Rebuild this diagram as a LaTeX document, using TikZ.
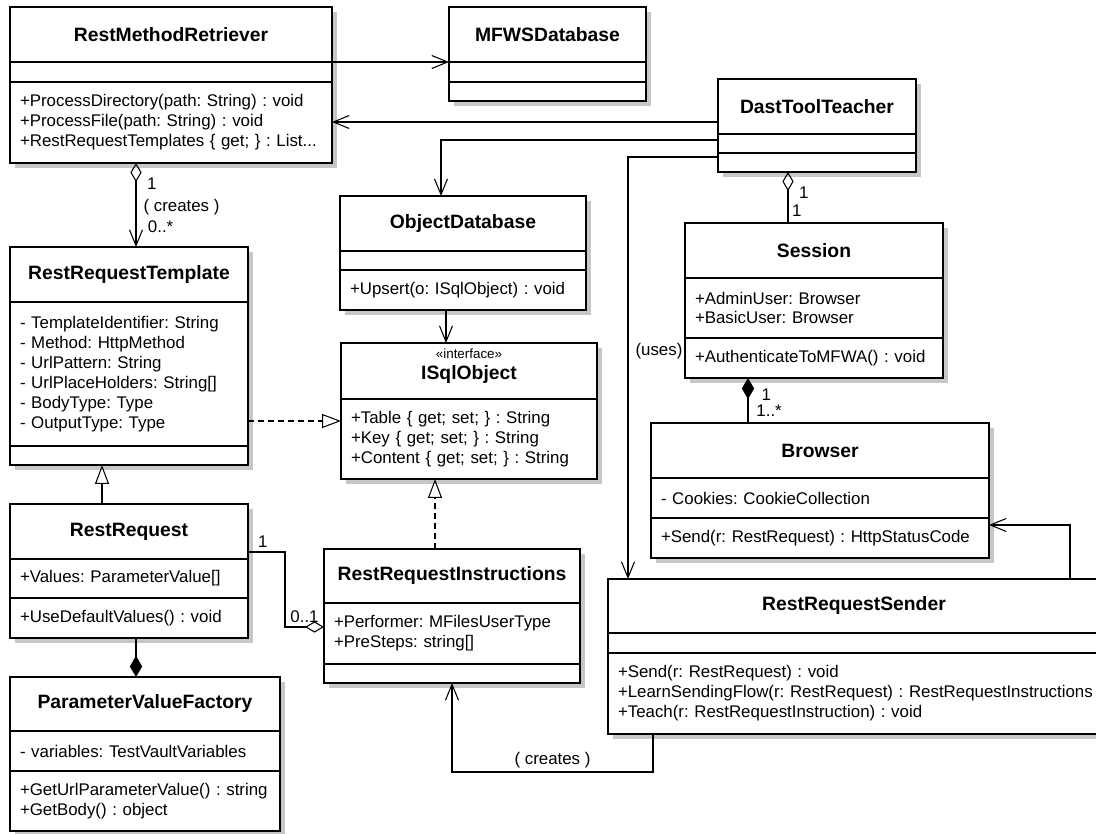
\documentclass[tikz,border=0pt]{standalone}
\usepackage{fontspec}
\setmainfont{Liberation Sans}
\usetikzlibrary{arrows.meta,backgrounds,calc,positioning}
\frenchspacing
\hyphenpenalty=10000
\exhyphenpenalty=10000
\def\px{0.02cm}
\newcommand\classfont{\fontsize{11}{13}\selectfont\bfseries}
\newcommand\memberfont{\fontsize{9.6}{11.34}\selectfont}
\newcommand\stereofont{\fontsize{7.6}{9}\selectfont\mdseries}
\tikzset{
    uml diagram/.style   = {x=\px, y=-\px, line width=0.6pt,
                            >={Straight Barb[length=9pt, width=7.4pt]}},
    compartment/.style   = {draw, line width=0.8pt, fill=white,
                            inner sep=0pt, outer sep=0pt},
    classname/.style 2 args = {compartment, anchor=north west, font=\classfont,
                            align=center, minimum width=#1*\px,
                            minimum height=#2*\px},
    members/.style 2 args   = {compartment, font=\memberfont, align=left,
                            inner xsep=0.2cm, text width=(#1-20)*\px,
                            minimum height=#2*\px},
    class shadow/.style  = {fill=black!22},
    mult/.style          = {font=\memberfont, inner sep=2pt},
    navigable/.style     = {->},
    aggregation/.style   = {arrows={Diamond[open, length=10.8pt, width=6.4pt]->}},
    owner/.style         = {arrows={Diamond[open, length=10.8pt, width=6.4pt]-}},
    shared/.style        = {arrows={-Diamond[open, length=10.8pt, width=6.4pt]}},
    composition/.style   = {arrows={-Diamond[length=12pt, width=7pt]}},
    whole/.style         = {arrows={Diamond[length=12pt, width=7pt]-}},
    generalization/.style = {arrows={-Triangle[open, length=10.8pt, width=8pt]}},
    realization/.style   = {generalization, dash pattern=on 3.4pt off 2.3pt}
}

\begin{document}
\begin{tikzpicture}[uml diagram]
\useasboundingbox (0,0) rectangle (1096,834);
\clip (0,0) rectangle (1096,834);

% Classes, top row
\node[classname={322}{55}] (retriever) at (10,7) {RestMethodRetriever};
\node[members={322}{20}, below=0pt of retriever] (retrieverattrs) {};
\node[members={322}{81}, below=0pt of retrieverattrs] (retrieverops)
  {+ProcessDirectory(path: String) : void\\+ProcessFile(path: String) : void\\+RestRequestTemplates \{ get; \} : List...};

\node[classname={197}{55}] (mfws) at (449,7) {MFWSDatabase};
\node[members={197}{20}, below=0pt of mfws] (mfwsattrs) {};
\node[members={197}{19}, below=0pt of mfwsattrs] (mfwsops) {};

\node[classname={198}{55}] (teacher) at (718,79) {DastToolTeacher};
\node[members={198}{19}, below=0pt of teacher] (teacherattrs) {};
\node[members={198}{19}, below=0pt of teacherattrs] (teacherops) {};

% Persistence
\node[classname={246}{55}] (objdb) at (340,196) {ObjectDatabase};
\node[members={246}{19}, below=0pt of objdb] (objdbattrs) {};
\node[members={246}{40}, below=0pt of objdbattrs] (objdbops)
  {+Upsert(o: ISqlObject) : void};

\node[classname={256}{56}] (isql) at (341,343)
  {{\stereofont «interface»}\\[-1pt]ISqlObject\rule[-8pt]{0pt}{0pt}};
\node[members={256}{80}, below=0pt of isql] (isqlattrs)
  {+Table \{ get; set; \} : String\\+Key \{ get; set; \} : String\\+Content \{ get; set; \} : String};

% Requests
\node[classname={238}{55}] (template) at (10,247) {RestRequestTemplate};
\node[members={238}{144}, below=0pt of template] (templateattrs)
  {- TemplateIdentifier: String\\- Method: HttpMethod\\- UrlPattern: String\\- UrlPlaceHolders: String[]\\- BodyType: Type\\- OutputType: Type};
\node[members={238}{19}, below=0pt of templateattrs] (templateops) {};

\node[classname={238}{55}] (request) at (10,504) {RestRequest};
\node[members={238}{39}, below=0pt of request] (requestattrs)
  {+Values: ParameterValue[]};
\node[members={238}{40}, below=0pt of requestattrs] (requestops)
  {+UseDefaultValues() : void};

\node[classname={270}{54}] (factory) at (10,677) {ParameterValueFactory};
\node[members={270}{40}, below=0pt of factory] (factoryattrs)
  {- variables: TestVaultVariables};
\node[members={270}{60}, below=0pt of factoryattrs] (factoryops)
  {+GetUrlParameterValue() : string\\+GetBody() : object};

\node[classname={256}{54}] (instructions) at (324,549) {RestRequestInstructions};
\node[members={256}{61}, below=0pt of instructions] (instructionsattrs)
  {+Performer: MFilesUserType\\+PreSteps: string[]};
\node[members={256}{19}, below=0pt of instructionsattrs] (instructionsops) {};

% Session side
\node[classname={258}{55}] (session) at (685,223) {Session};
\node[members={258}{60}, below=0pt of session] (sessionattrs)
  {+AdminUser: Browser\\+BasicUser: Browser};
\node[members={258}{40}, below=0pt of sessionattrs] (sessionops)
  {+AuthenticateToMFWA() : void};

\node[classname={338}{55}] (browser) at (651,423) {Browser};
\node[members={338}{40}, below=0pt of browser] (browserattrs)
  {- Cookies: CookieCollection};
\node[members={338}{40}, below=0pt of browserattrs] (browserops)
  {+Send(r: RestRequest) : HttpStatusCode};

\node[classname={492}{54}] (sender) at (608,579) {RestRequestSender};
\node[members={492}{20}, below=0pt of sender] (senderattrs) {};
\node[members={492}{81}, below=0pt of senderattrs] (senderops)
  {+Send(r: RestRequest) : void\\\mbox{+LearnSendingFlow(r: RestRequest) : RestRequestInstructions}\\+Teach(r: RestRequestInstruction) : void};

% Drop shadows behind every class
\begin{scope}[on background layer]
  \foreach \cls/\last in {retriever/retrieverops, mfws/mfwsops,
      teacher/teacherops, objdb/objdbops, isql/isqlattrs,
      template/templateops, request/requestops, factory/factoryops,
      instructions/instructionsops, session/sessionops,
      browser/browserops, sender/senderops}
    \fill[class shadow] ($(\cls.north west)+(5,5)$)
      rectangle ($(\last.south east)+(5,5)$);
\end{scope}

% Connector end points
\coordinate (teacherA) at ($(teacher.north west)+(0,43)$);
\coordinate (teacherB) at ($(teacher.north west)+(0,61)$);
\coordinate (teacherC) at ($(teacher.north west)+(0,78)$);
\coordinate (objdbtop) at ($(objdb.north west)+(101,0)$);
\coordinate (sendertop) at ($(sender.north west)+(20,0)$);
\coordinate (retrieverbot) at ($(retrieverops.south west)+(126,0)$);
\coordinate (templateR) at ($(templateattrs.north east)+(0,119)$);
\coordinate (requesttop) at ($(request.north west)+(92,0)$);
\coordinate (requestbot) at ($(requestops.south west)+(126,0)$);
\coordinate (requestR) at ($(request.north east)+(0,48)$);
\coordinate (instructionsL) at ($(instructionsattrs.north west)+(0,24)$);
\coordinate (instructionstop) at ($(instructions.north west)+(111,0)$);
\coordinate (instructionsbot) at ($(instructionsops.south west)+(128,0)$);
\coordinate (objdbbot) at ($(objdbops.south west)+(106,0)$);
\coordinate (senderbot) at ($(senderops.south west)+(45,0)$);
\coordinate (teacherbot) at ($(teacherops.south west)+(70,0)$);
\coordinate (sessionbot) at ($(sessionops.south west)+(63,0)$);
\coordinate (senderright) at ($(sender.north west)+(462,0)$);
\coordinate (browserR) at ($(browserops.north east)+(0,7)$);

% Associations
\draw[navigable] (retriever.south east) -- (mfws.south west);
\draw[navigable] (teacherA) -- (teacherA -| retrieverops.east);
\draw[navigable] (teacherB) -| (objdbtop);
\draw[navigable] (teacherC)
  -| node[mult, pos=0.73, right=2pt] {(uses)} (sendertop);
\draw[aggregation] (retrieverbot)
  -- node[mult, pos=0.25, right=4pt] {1}
     node[mult, pos=0.52, right=2pt] {( creates )}
     node[mult, pos=0.76, right=4.5pt] {0..*}
  (retrieverbot |- template.north);
\draw[realization] (templateR) -- (templateR -| isqlattrs.west);
\draw[generalization] (requesttop) -- (requesttop |- templateops.south);
\draw[composition] (requestbot) -- (requestbot |- factory.north);
\draw[shared] (requestR) -- node[mult, above, pos=0.4] {1} ++(37,0)
  |- node[mult, above, pos=0.75] {0..1} (instructionsL);
\draw[realization] (instructionstop) -- (instructionstop |- isqlattrs.south);
\draw[navigable] (objdbbot) -- (objdbbot |- isql.north);
\draw[navigable] (senderbot) -- ++(0,38)
  -| node[mult, above, pos=0.25] {( creates )} (instructionsbot);
\draw[owner] (teacherbot)
  -- node[mult, pos=0.41, right=4pt] {1}
     node[mult, pos=0.76, right=0pt] {1}
  (teacherbot |- session.north);
\draw[whole] (sessionbot)
  -- node[mult, pos=0.36, right=5.4pt] {1}
     node[mult, pos=0.73, right=2.5pt] {1..*}
  (sessionbot |- browser.north);
\draw[navigable] (senderright) |- (browserR);

\end{tikzpicture}
\end{document}
